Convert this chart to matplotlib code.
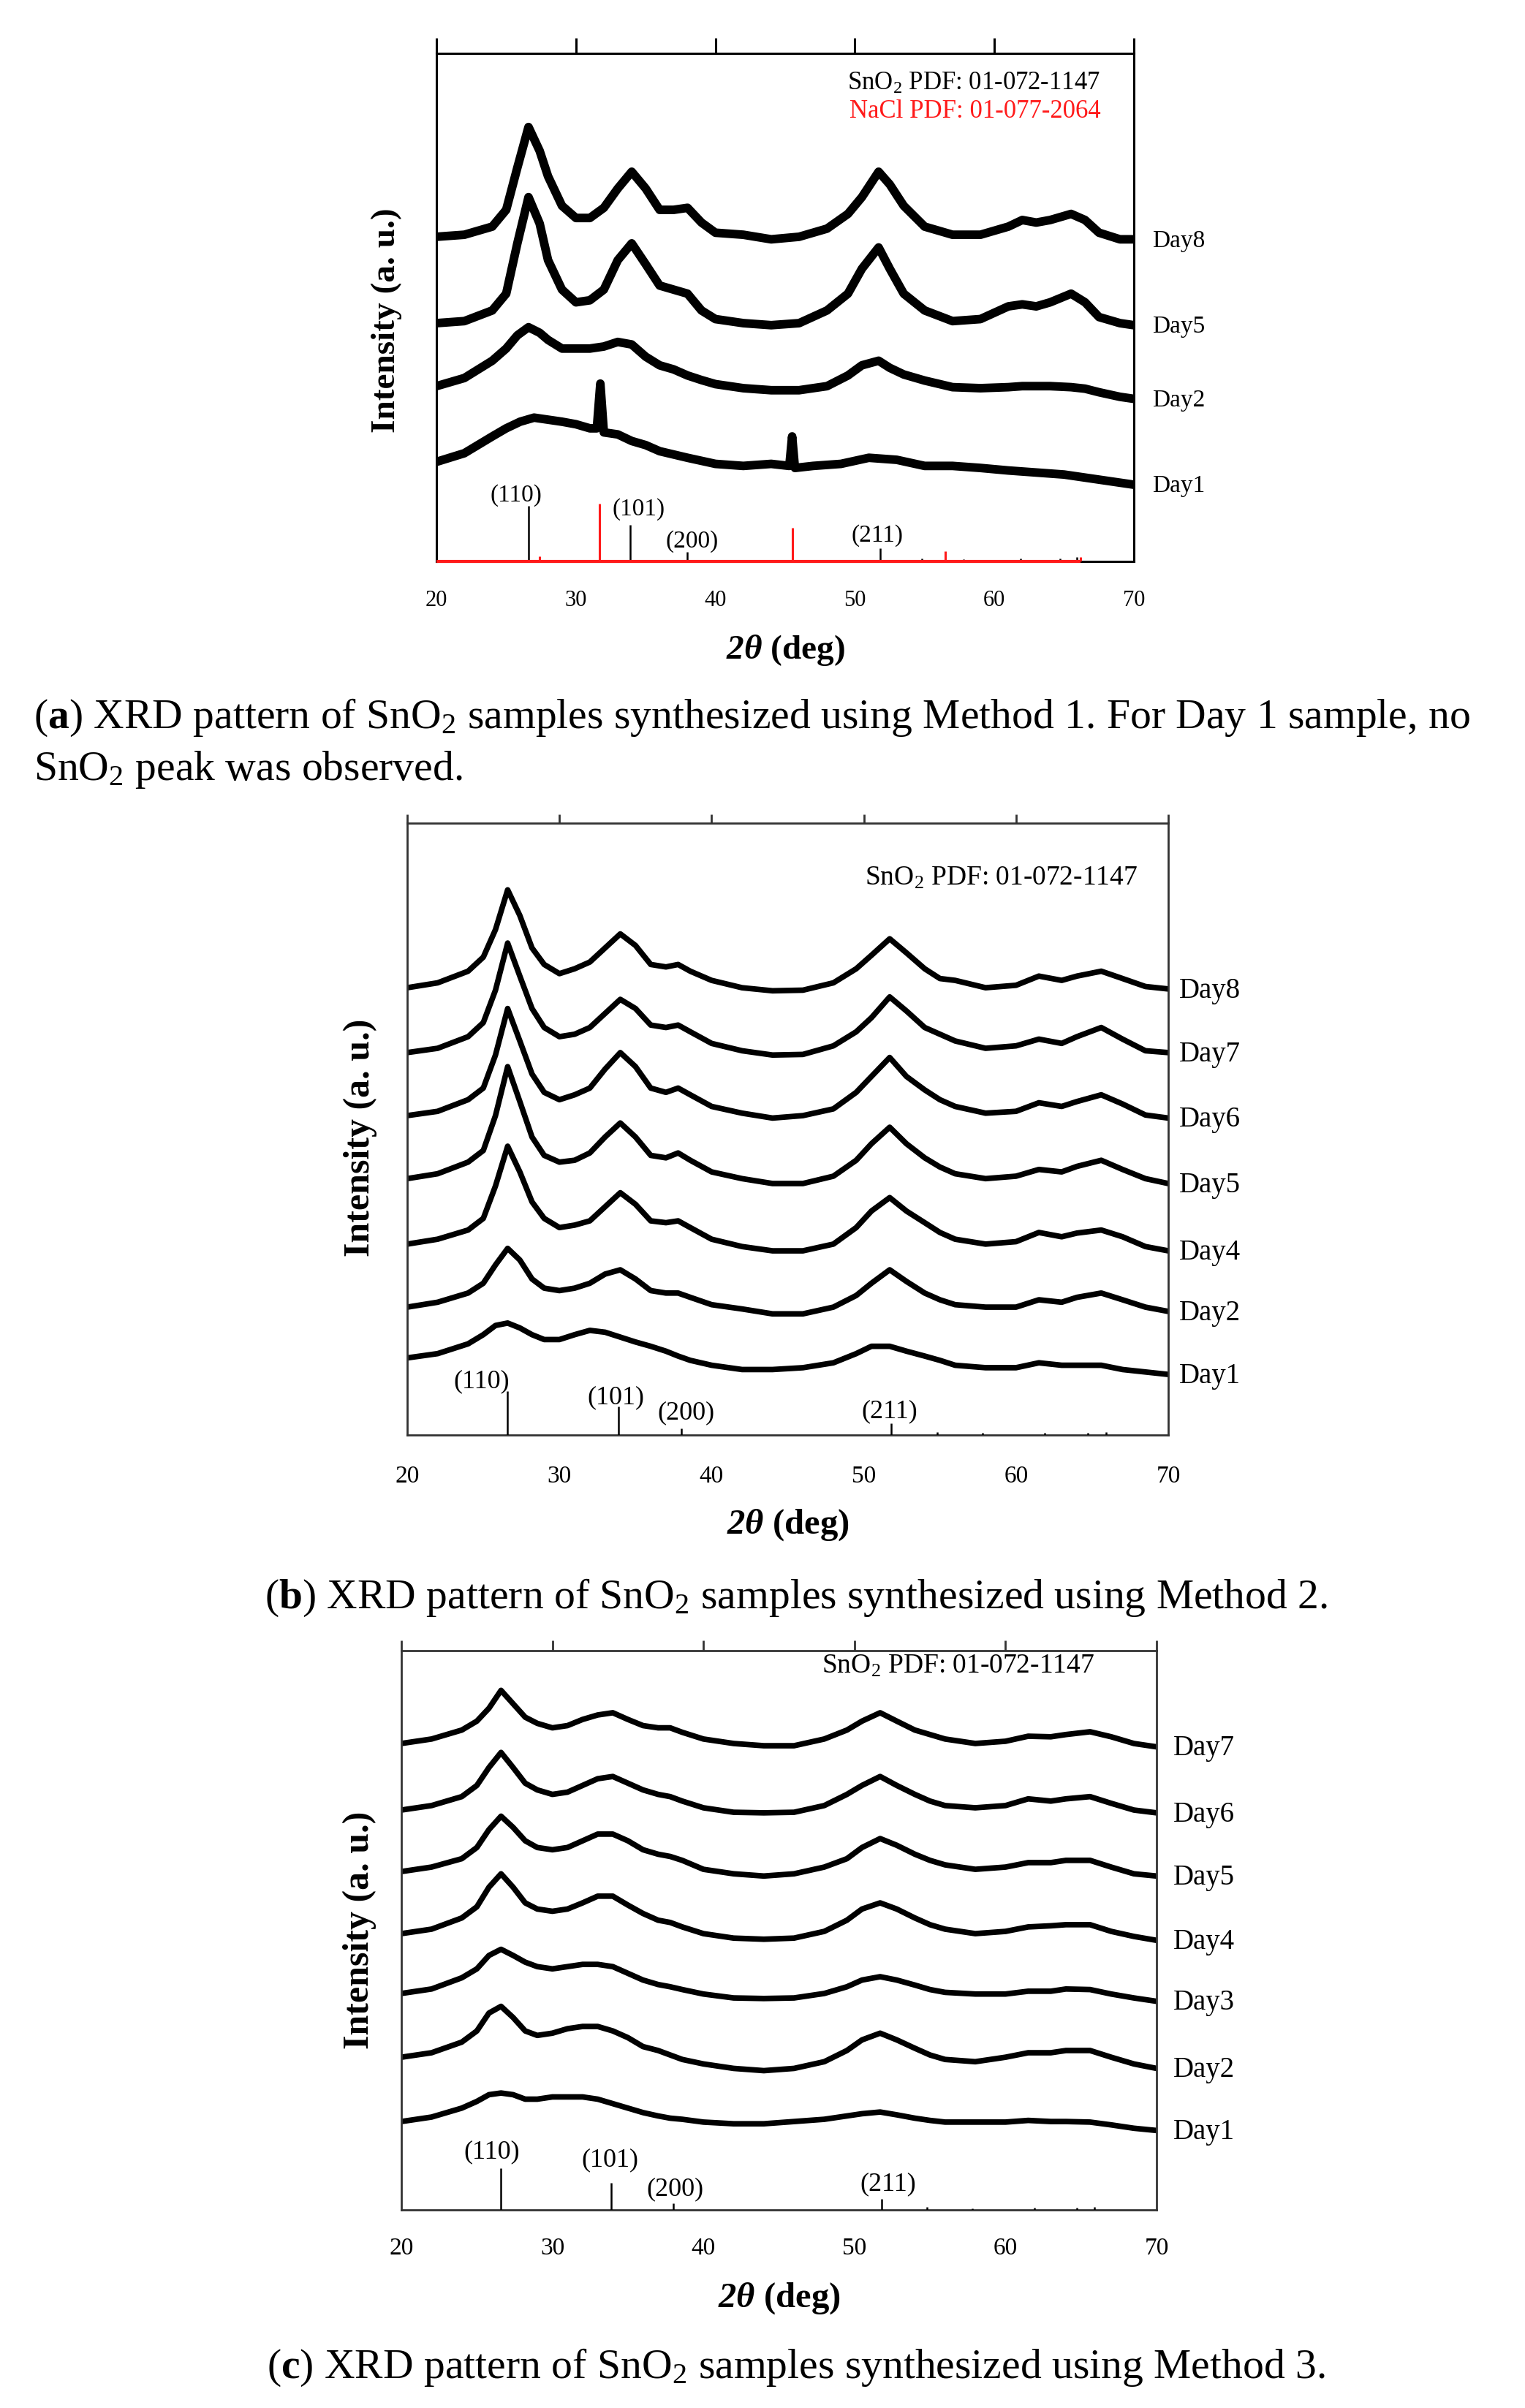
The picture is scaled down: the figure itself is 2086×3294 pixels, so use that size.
import matplotlib
matplotlib.use('Agg')
import matplotlib.pyplot as plt

plt.rcParams['font.family'] = ['Liberation Serif', 'DejaVu Serif']
plt.rcParams['mathtext.fontset'] = 'custom'
plt.rcParams['mathtext.rm'] = 'Liberation Serif'
plt.rcParams['mathtext.it'] = 'Liberation Serif:italic'
plt.rcParams['mathtext.bf'] = 'Liberation Serif:bold'
plt.rcParams['mathtext.bfit'] = 'Liberation Serif:italic:bold'

# ---- panel (a): method 1 ----
xa = [20, 22, 24, 25, 25.8, 26.6, 27.4, 28, 29, 30, 31, 32, 33, 34, 35, 36, 37, 38, 39, 40,
      42, 44, 46, 48, 49.5, 50.5, 51.7, 52.5, 53.5, 55, 57, 59, 61, 62, 63, 64, 65.5, 66.5, 67.5, 69, 70]
a_day8 = [63.9, 64.3, 65.9, 69.2, 77.5, 85.5, 80.8, 75.8, 70.0, 67.6, 67.6, 69.6, 73.4, 76.7, 73.4, 69.2, 69.2, 69.6, 66.7, 64.7,
          64.3, 63.4, 63.9, 65.5, 68.4, 71.7, 76.7, 74.2, 70.0, 65.9, 64.3, 64.3, 65.9, 67.2, 66.7, 67.2, 68.4, 67.2, 64.7, 63.4, 63.4]
a_day5 = [46.9, 47.3, 49.4, 52.7, 62.6, 71.7, 66.5, 59.3, 53.5, 51.0, 51.4, 53.5, 59.3, 62.6, 58.5, 54.3, 53.5, 52.7, 49.4, 47.7,
          46.9, 46.5, 46.9, 49.4, 52.7, 57.6, 61.8, 57.6, 52.7, 49.4, 47.3, 47.7, 50.2, 50.6, 50.2, 51.0, 52.7, 51.0, 48.1, 46.9, 46.5]
a_day2 = [34.5, 36.1, 39.5, 41.9, 44.5, 46.1, 45.0, 43.6, 41.9, 41.9, 41.9, 42.3, 43.2, 42.7, 40.3, 38.6, 37.8, 36.6, 35.7, 34.9,
          34.1, 33.7, 33.7, 34.5, 36.6, 38.6, 39.5, 38.1, 36.8, 35.6, 34.3, 34.1, 34.3, 34.5, 34.5, 34.5, 34.3, 34.0, 33.3, 32.4, 32.0]
xa_day1 = [20, 22, 24, 25, 26, 27, 28, 29, 30, 31, 31.5, 31.75, 32, 33, 34, 35, 36, 38, 40, 42,
           44, 45.3, 45.5, 45.7, 47, 49, 51, 53, 55, 57, 59, 61, 63, 65, 67, 69, 70]
a_day1 = [19.6, 21.3, 24.6, 26.2, 27.5, 28.3, 27.9, 27.5, 27.0, 26.2, 26.2, 35.0, 25.4, 25.0, 23.7, 22.9, 21.7, 20.4, 19.2, 18.8,
          19.2, 18.8, 24.6, 18.4, 18.8, 19.2, 20.4, 20.0, 18.8, 18.8, 18.4, 17.9, 17.5, 17.1, 16.3, 15.5, 15.1]
a_labels = ['Day8', 'Day5', 'Day2', 'Day1']

# ---- reference patterns ----
sno2_pos = [26.6, 33.9, 38.0, 51.8, 54.8, 57.8, 61.9, 64.7, 65.9]
sno2_h_a = [10.9, 7.2, 1.8, 2.6, 0.6, 0.4, 0.6, 0.6, 0.8]
sno2_h_b = [7.2, 4.6, 1.1, 1.9, 0.5, 0.3, 0.4, 0.4, 0.5]
sno2_h_c = [7.5, 4.9, 1.2, 2.0, 0.5, 0.3, 0.4, 0.4, 0.5]
nacl_pos = [27.4, 31.7, 45.5, 56.5, 66.2]
nacl_h = [1.0, 11.3, 6.6, 2.0, 0.9]
hkl = ['(110)', '(101)', '(200)', '(211)']

# ---- panels (b) and (c): common 2theta grid ----
xg = [20, 22, 24, 25, 25.8, 26.6, 27.4, 28.2, 29, 30, 31, 32, 33, 34, 35, 36, 37, 37.8, 38.6, 40,
      42, 44, 46, 48, 49.5, 50.5, 51.7, 52.8, 54, 55, 56, 58, 60, 61.5, 63, 64, 65.6, 67, 68.5, 70]

b_day8 = [73.1, 73.9, 75.8, 78.1, 82.6, 89.1, 84.9, 79.6, 76.9, 75.4, 76.2, 77.3, 79.6, 81.9, 80.0, 76.9, 76.5, 76.9, 75.8, 74.3,
          73.1, 72.6, 72.7, 73.9, 76.2, 78.4, 81.1, 78.8, 76.2, 74.6, 74.3, 73.1, 73.5, 75.0, 74.3, 75.0, 75.8, 74.6, 73.3, 72.9]
b_day7 = [62.5, 63.2, 65.1, 67.4, 72.7, 80.4, 75.0, 69.7, 66.6, 65.1, 65.5, 66.6, 68.9, 71.2, 69.7, 67.0, 66.6, 67.0, 65.9, 64.0,
          62.8, 62.1, 62.2, 63.6, 65.9, 68.2, 71.6, 69.3, 66.6, 65.5, 64.4, 63.2, 63.6, 64.7, 64.0, 65.1, 66.6, 64.7, 62.8, 62.5]
b_day6 = [52.2, 52.9, 54.8, 56.7, 62.1, 69.7, 64.4, 59.0, 56.0, 54.8, 55.6, 56.7, 59.8, 62.5, 60.2, 56.7, 56.0, 56.7, 55.6, 53.7,
          52.6, 51.8, 52.2, 53.3, 56.0, 58.6, 61.7, 58.6, 56.4, 54.8, 53.7, 52.6, 52.9, 54.3, 53.7, 54.5, 55.6, 54.1, 52.3, 51.8]
b_day5 = [41.9, 42.7, 44.6, 46.5, 52.2, 60.2, 54.5, 48.7, 45.7, 44.6, 44.9, 46.1, 48.7, 51.0, 48.7, 45.7, 45.3, 46.1, 44.9, 43.0,
          41.9, 41.1, 41.1, 42.3, 44.9, 47.6, 50.3, 47.6, 45.3, 43.8, 42.7, 41.9, 42.3, 43.4, 43.0, 43.9, 44.9, 43.4, 41.9, 41.1]
b_day4 = [31.2, 32.0, 33.5, 35.4, 40.7, 47.2, 43.0, 38.1, 35.4, 33.9, 34.3, 35.0, 37.3, 39.6, 37.7, 35.0, 34.7, 35.0, 33.9, 32.0,
          30.8, 30.1, 30.1, 31.2, 33.9, 36.6, 38.8, 36.6, 34.7, 33.1, 32.0, 31.2, 31.6, 33.1, 32.4, 33.0, 33.5, 32.4, 30.8, 30.1]
b_day2 = [20.9, 21.7, 23.2, 24.8, 27.8, 30.5, 28.6, 25.5, 24.0, 23.6, 24.0, 24.8, 26.3, 27.0, 25.5, 23.6, 23.2, 23.2, 22.5, 21.3,
          20.6, 19.8, 19.8, 20.9, 22.8, 24.8, 27.0, 25.1, 23.2, 22.1, 21.3, 20.9, 20.9, 22.1, 21.7, 22.5, 23.2, 22.1, 20.9, 20.2]
b_day1 = [12.6, 13.3, 14.9, 16.4, 17.9, 18.3, 17.5, 16.4, 15.6, 15.6, 16.4, 17.1, 16.8, 16.0, 15.2, 14.5, 13.7, 12.9, 12.2, 11.4,
          10.7, 10.7, 11.0, 11.8, 13.3, 14.5, 14.5, 13.7, 12.9, 12.2, 11.4, 11.0, 11.0, 11.8, 11.4, 11.4, 11.4, 10.7, 10.3, 9.9]
b_labels = ['Day8', 'Day7', 'Day6', 'Day5', 'Day4', 'Day2', 'Day1']

c_day7 = [83.4, 84.2, 85.8, 87.4, 89.7, 92.9, 90.5, 88.1, 87.0, 86.2, 86.6, 87.7, 88.5, 88.9, 87.7, 86.6, 86.2, 86.2, 85.4, 84.2,
          83.4, 83.0, 83.0, 84.2, 85.8, 87.4, 88.9, 87.4, 85.8, 85.0, 84.2, 83.4, 83.8, 84.7, 84.6, 85.0, 85.5, 84.6, 83.4, 82.8]
c_day6 = [71.5, 72.3, 73.9, 75.9, 79.1, 81.8, 79.1, 76.3, 75.1, 74.3, 74.7, 75.9, 77.1, 77.5, 76.3, 75.1, 74.3, 73.9, 73.1, 71.9,
          71.1, 71.0, 71.1, 72.3, 74.3, 75.9, 77.5, 75.9, 74.3, 73.1, 72.3, 71.9, 72.3, 73.5, 73.1, 73.5, 73.9, 72.7, 71.5, 71.0]
c_day5 = [60.5, 61.3, 62.8, 64.8, 68.0, 70.4, 68.4, 66.0, 64.8, 64.4, 64.8, 66.0, 67.2, 67.2, 66.0, 64.4, 63.6, 63.2, 62.5, 60.9,
          60.1, 59.7, 60.1, 61.3, 62.8, 64.8, 66.4, 65.2, 63.6, 62.5, 61.7, 60.9, 61.3, 62.1, 62.1, 62.5, 62.5, 61.3, 60.1, 59.7]
c_day4 = [49.4, 50.2, 52.2, 54.2, 57.7, 60.1, 57.7, 54.9, 53.8, 53.4, 53.8, 54.9, 56.1, 56.1, 54.5, 53.0, 51.8, 51.4, 50.6, 49.4,
          48.6, 48.4, 48.6, 49.8, 51.8, 53.8, 54.9, 53.8, 52.2, 51.0, 50.2, 49.4, 49.8, 50.6, 50.8, 51.0, 51.0, 49.8, 48.9, 48.2]
c_day3 = [38.7, 39.5, 41.5, 43.1, 45.5, 46.6, 45.5, 44.3, 43.5, 43.1, 43.5, 43.9, 43.9, 43.5, 42.3, 41.1, 40.3, 39.9, 39.4, 38.6,
          37.9, 37.8, 37.9, 38.7, 39.9, 41.1, 41.7, 41.1, 40.2, 39.4, 38.9, 38.6, 38.6, 39.1, 39.1, 39.5, 39.4, 38.6, 37.9, 37.3]
c_day2 = [27.3, 28.1, 30.0, 32.0, 35.2, 36.4, 34.4, 32.0, 31.2, 31.6, 32.4, 32.8, 32.8, 32.0, 30.8, 29.2, 28.5, 27.7, 26.9, 26.1,
          25.3, 24.9, 25.3, 26.5, 28.5, 30.4, 31.6, 30.4, 28.9, 27.7, 26.9, 26.5, 27.3, 28.1, 28.1, 28.5, 28.5, 27.3, 26.1, 25.3]
c_day1 = [15.8, 16.6, 18.2, 19.4, 20.6, 20.9, 20.6, 19.8, 19.8, 20.2, 20.2, 20.2, 19.8, 19.0, 18.2, 17.4, 16.8, 16.4, 16.2, 15.7,
          15.4, 15.4, 15.8, 16.2, 16.8, 17.2, 17.5, 17.0, 16.4, 16.0, 15.7, 15.7, 15.7, 16.0, 15.8, 15.8, 15.7, 15.2, 14.6, 14.2]
c_labels = ['Day7', 'Day6', 'Day5', 'Day4', 'Day3', 'Day2', 'Day1']

xticks = [20, 30, 40, 50, 60, 70]

W, H = 2086, 3294
fig = plt.figure(figsize=(W / 100, H / 100), dpi=100)


def setup(ax, spine_c, spine_w, top_len, tick_fs, pad):
    ax.set_xlim(20, 70)
    ax.set_ylim(0, 100)
    for s in ax.spines.values():
        s.set_color(spine_c)
        s.set_linewidth(spine_w)
    ax.set_yticks([])
    ax.set_xticks(xticks)
    ax.tick_params(axis='x', length=0, pad=pad, labelsize=tick_fs)
    # top ticks pointing outward
    sec = ax.secondary_xaxis('top')
    sec.set_xticks(xticks)
    sec.set_xticklabels([])
    sec.tick_params(length=top_len, width=spine_w, color=spine_c, direction='out')
    sec.spines['top'].set_visible(False)


def add_sticks(ax, heights, lw):
    ax.vlines(sno2_pos, 0, heights, color='black', lw=lw, zorder=3)


# ---------------- (a) ----------------
ax = fig.add_axes([597 / W, 1 - 768 / H, 954 / W, 695 / H])
setup(ax, 'black', 2.2, 15, 22, 28)
lw_a = 8.5
for xs, ys in [(xa, a_day8), (xa, a_day5), (xa, a_day2), (xa_day1, a_day1)]:
    ax.plot(xs, ys, color='black', lw=lw_a, solid_joinstyle='round')
for lab, ys in zip(a_labels, [a_day8, a_day5, a_day2, a_day1]):
    ax.text(71.3, ys[-1] - 0.3, lab, fontsize=24, ha='left', va='center', clip_on=False)
add_sticks(ax, sno2_h_a, 1.8)
ax.vlines(nacl_pos, 0, nacl_h, color='#ff1a1a', lw=2.2, zorder=3)
ax.hlines(0, 20, nacl_pos[-1], color='#ff1a1a', lw=3, zorder=4, clip_on=False)
ax.text(25.7, 13.0, hkl[0], fontsize=24, ha='center', va='center')
ax.text(34.5, 10.3, hkl[1], fontsize=24, ha='center', va='center')
ax.text(38.3, 4.0, hkl[2], fontsize=24, ha='center', va='center')
ax.text(51.6, 5.1, hkl[3], fontsize=24, ha='center', va='center')
ax.text(67.6, 94.0, r'SnO$_2$ PDF: 01-072-1147', fontsize=25, ha='right', va='center')
ax.text(67.6, 88.6, 'NaCl PDF: 01-077-2064', fontsize=25, ha='right', va='center', color='#ff1a1a')
ax.text(0.5, -0.175, r'$\mathbfit{2\theta}$ (deg)', transform=ax.transAxes, fontsize=34,
        fontweight='bold', ha='center', va='center')
ax.text(-0.072, 0.475, 'Intensity (a. u.)', transform=ax.transAxes, fontsize=34,
        fontweight='bold', rotation=90, ha='center', va='center')

# ---------------- (b) ----------------
ax = fig.add_axes([557 / W, 1 - 1963 / H, 1041 / W, 837 / H])
setup(ax, '#333333', 2.0, 9, 24, 30)
for ys in [b_day8, b_day7, b_day6, b_day5, b_day4, b_day2, b_day1]:
    ax.plot(xg, ys, color='black', lw=5.5, solid_joinstyle='round')
for lab, ys in zip(b_labels, [b_day8, b_day7, b_day6, b_day5, b_day4, b_day2, b_day1]):
    ax.text(70.7, ys[-1] - 0.3, lab, fontsize=28, ha='left', va='center', clip_on=False)
add_sticks(ax, sno2_h_b, 1.8)
ax.text(24.9, 8.8, hkl[0], fontsize=26, ha='center', va='center')
ax.text(33.7, 6.1, hkl[1], fontsize=26, ha='center', va='center')
ax.text(38.3, 3.6, hkl[2], fontsize=26, ha='center', va='center')
ax.text(51.7, 3.8, hkl[3], fontsize=26, ha='center', va='center')
ax.text(68.0, 91.0, r'SnO$_2$ PDF: 01-072-1147', fontsize=27, ha='right', va='center')
ax.text(0.5, -0.147, r'$\mathbfit{2\theta}$ (deg)', transform=ax.transAxes, fontsize=35,
        fontweight='bold', ha='center', va='center')
ax.text(-0.062, 0.486, 'Intensity (a. u.)', transform=ax.transAxes, fontsize=36,
        fontweight='bold', rotation=90, ha='center', va='center')

# ---------------- (c) ----------------
ax = fig.add_axes([549 / W, 1 - 3023 / H, 1033 / W, 765 / H])
setup(ax, '#333333', 2.0, 10, 24, 27)
for ys in [c_day7, c_day6, c_day5, c_day4, c_day3, c_day2, c_day1]:
    ax.plot(xg, ys, color='black', lw=5.5, solid_joinstyle='round')
for lab, ys in zip(c_labels, [c_day7, c_day6, c_day5, c_day4, c_day3, c_day2, c_day1]):
    ax.text(71.1, ys[-1] - 0.3, lab, fontsize=28, ha='left', va='center', clip_on=False)
add_sticks(ax, sno2_h_c, 1.8)
ax.text(26.0, 10.3, hkl[0], fontsize=26, ha='center', va='center')
ax.text(33.8, 8.9, hkl[1], fontsize=26, ha='center', va='center')
ax.text(38.1, 3.7, hkl[2], fontsize=26, ha='center', va='center')
ax.text(52.2, 4.6, hkl[3], fontsize=26, ha='center', va='center')
ax.text(65.9, 97.2, r'SnO$_2$ PDF: 01-072-1147', fontsize=27, ha='right', va='center')
ax.text(0.5, -0.158, r'$\mathbfit{2\theta}$ (deg)', transform=ax.transAxes, fontsize=35,
        fontweight='bold', ha='center', va='center')
ax.text(-0.055, 0.50, 'Intensity (a. u.)', transform=ax.transAxes, fontsize=36,
        fontweight='bold', rotation=90, ha='center', va='center')

# ---------------- captions ----------------
cap_fs = 41.5
fig.text(46 / W, 1 - 982 / H,
         r'($\mathbf{a}$) XRD pattern of SnO$_2$ samples synthesized using Method 1. For Day 1 sample, no',
         fontsize=cap_fs, ha='left', va='center')
fig.text(46 / W, 1 - 1053 / H, r'SnO$_2$ peak was observed.', fontsize=cap_fs, ha='left', va='center')
fig.text(1089 / W, 1 - 2186 / H, r'($\mathbf{b}$) XRD pattern of SnO$_2$ samples synthesized using Method 2.',
         fontsize=cap_fs, ha='center', va='center')
fig.text(1089 / W, 1 - 3239 / H, r'($\mathbf{c}$) XRD pattern of SnO$_2$ samples synthesized using Method 3.',
         fontsize=cap_fs, ha='center', va='center')

fig.savefig('out.png', dpi=100, facecolor='white')
